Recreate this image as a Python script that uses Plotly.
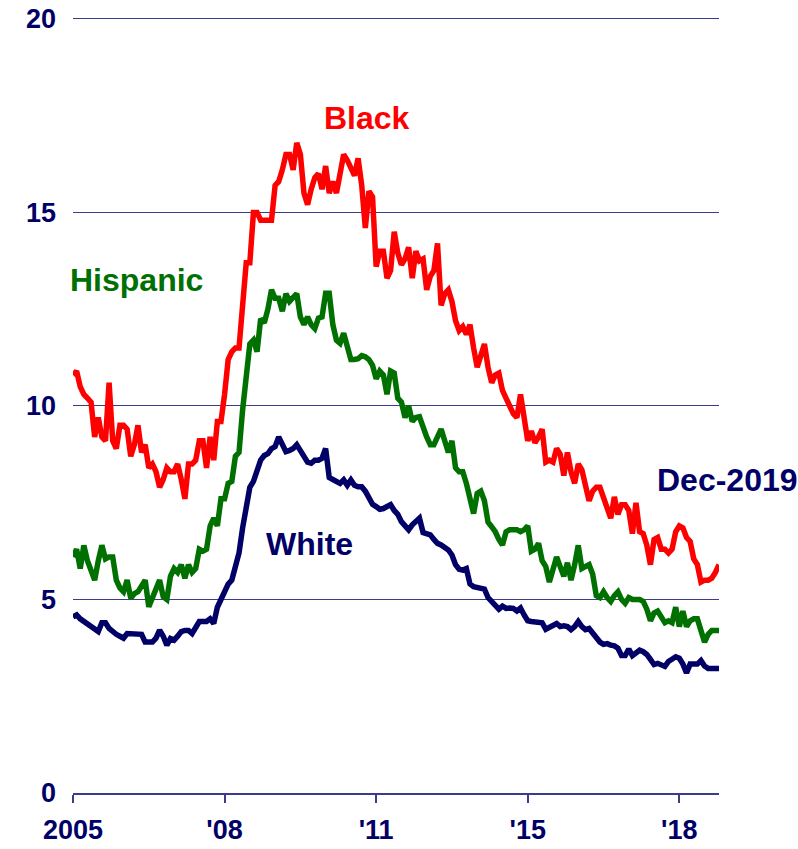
import plotly.graph_objects as go

# Monthly unemployment rate (%) by group, Jan 2005 - Dec 2019 (180 months)
months = list(range(180))

black = [
    10.8, 10.9, 10.5, 10.3, 10.2, 10.1, 9.2, 9.7, 9.2, 9.1,
    10.6, 9.1, 8.9, 9.5, 9.5, 9.4, 8.7, 9.0, 9.5, 8.8,
    9.0, 8.4, 8.5, 8.3, 7.9, 8.1, 8.4, 8.3, 8.3, 8.5,
    8.1, 7.6, 8.5, 8.5, 8.6, 9.1, 9.1, 8.4, 9.2, 8.6,
    9.6, 9.6, 10.3, 11.2, 11.4, 11.5, 11.5, 12.6, 13.7, 13.7,
    15.0, 15.0, 14.8, 14.8, 14.8, 14.8, 15.7, 15.8, 16.1, 16.5,
    16.5, 16.1, 16.8, 16.5, 15.5, 15.2, 15.6, 15.9, 16.0, 15.6,
    16.2, 15.5, 15.8, 15.5, 16.0, 16.5, 16.35, 16.1, 15.95, 16.4,
    15.7, 14.6, 15.55, 15.4, 13.6, 14.0, 14.0, 13.3, 13.5, 14.5,
    13.95, 13.65, 13.8, 14.1, 13.3, 14.0, 13.75, 13.8, 13.0, 13.35,
    13.5, 14.2, 12.6, 12.9, 13.0, 12.7, 12.2, 11.95, 12.05, 11.85,
    12.1, 11.5, 11.0, 11.3, 11.6, 11.0, 10.6, 10.8, 10.85, 10.4,
    10.15, 10.0, 9.8, 9.7, 10.3, 9.7, 9.1, 9.35, 9.05, 9.2,
    9.4, 8.55, 8.6, 8.55, 8.9, 8.75, 8.2, 8.8, 8.3, 8.0,
    8.5, 8.35, 8.0, 7.55, 7.8, 7.9, 7.9, 7.65, 7.3, 7.1,
    7.65, 7.2, 7.45, 7.45, 7.3, 6.7, 7.5, 6.75, 6.7, 6.4,
    5.9, 6.55, 6.6, 6.3, 6.3, 6.2, 6.3, 6.75, 6.9, 6.85,
    6.6, 6.5, 6.05, 5.9, 5.45, 5.5, 5.5, 5.55, 5.7, 5.9,
]

hispanic = [
    6.1, 6.3, 5.8, 6.4, 6.0, 5.75, 5.5, 6.0, 6.4, 6.05,
    6.1, 6.1, 5.5, 5.3, 5.2, 5.5, 5.03, 5.15, 5.2, 5.35,
    5.5, 4.81, 5.07, 5.3, 5.5, 5.07, 5.0, 5.6, 5.8, 5.7,
    5.9, 5.55, 5.9, 5.7, 5.8, 6.3, 6.25, 6.3, 6.9, 7.1,
    6.9, 7.6, 7.6, 8.0, 8.05, 8.7, 8.8, 9.9, 10.9, 11.6,
    11.7, 11.4, 12.25, 12.15, 12.5, 13.0, 12.78, 12.78, 12.45, 12.9,
    12.7, 12.8, 12.9, 12.3, 12.1, 12.3, 12.1, 12.0, 12.27, 12.3,
    12.91, 12.91, 12.1, 11.7, 11.62, 11.88, 11.5, 11.2, 11.2, 11.22,
    11.3, 11.27, 11.2, 11.05, 10.7, 10.9, 10.8, 10.3, 10.9, 10.85,
    10.2, 10.1, 9.7, 10.0, 9.6, 9.7, 9.72, 9.4, 9.2, 9.0,
    9.0, 9.2, 9.4, 9.1, 8.8, 9.1, 8.4, 8.3, 8.3, 8.0,
    7.6, 7.22, 7.74, 7.8, 7.55, 7.0, 6.88, 6.75, 6.55, 6.41,
    6.75, 6.8, 6.8, 6.8, 6.75, 6.8, 6.9, 6.25, 6.3, 6.45,
    6.0, 5.85, 5.45, 5.8, 6.1, 5.85, 5.6, 5.95, 5.5, 5.9,
    6.4, 5.8, 5.85, 5.9, 5.65, 5.1, 5.05, 5.2, 5.05, 4.95,
    5.1, 5.2, 5.0, 4.9, 5.05, 5.0, 5.0, 5.0, 4.95, 4.75,
    4.45, 4.65, 4.7, 4.55, 4.4, 4.45, 4.4, 4.8, 4.3, 4.7,
    4.3, 4.45, 4.5, 4.5, 4.2, 3.9, 4.1, 4.2, 4.2, 4.2,
]

white = [
    4.55, 4.6, 4.5, 4.43, 4.38, 4.3, 4.2, 4.17, 4.4, 4.4,
    4.25, 4.15, 4.1, 4.05, 4.0, 4.12, 4.12, 4.12, 4.12, 4.1,
    3.9, 3.9, 3.9, 4.0, 4.21, 4.05, 3.82, 3.99, 3.95, 4.05,
    4.17, 4.2, 4.2, 4.12, 4.3, 4.43, 4.43, 4.43, 4.5, 4.38,
    4.8, 5.0, 5.2, 5.4, 5.5, 5.8, 6.2, 6.85, 7.3, 7.9,
    8.05, 8.3, 8.6, 8.72, 8.77, 8.9, 8.95, 9.2, 9.0, 8.82,
    8.85, 8.9, 9.0, 8.85, 8.73, 8.55, 8.52, 8.6, 8.6, 8.65,
    8.9, 8.15, 8.1, 8.05, 8.0, 8.09, 7.95, 8.09, 7.95, 7.91,
    7.91, 7.8, 7.66, 7.46, 7.4, 7.33, 7.35, 7.42, 7.45, 7.3,
    7.2, 7.01, 6.9, 6.8, 6.93, 7.0, 7.1, 6.73, 6.7, 6.67,
    6.55, 6.45, 6.41, 6.33, 6.28, 6.15, 5.9, 5.78, 5.76, 5.8,
    5.4, 5.33, 5.3, 5.3, 5.27, 5.05, 4.95, 4.88, 4.75, 4.83,
    4.77, 4.78, 4.77, 4.7, 4.78, 4.6, 4.45, 4.43, 4.43, 4.43,
    4.4, 4.23, 4.28, 4.34, 4.38, 4.3, 4.32, 4.3, 4.22, 4.3,
    4.43, 4.3, 4.22, 4.25, 4.12, 3.97, 3.9, 3.84, 3.86, 3.82,
    3.8, 3.74, 3.55, 3.55, 3.72, 3.55, 3.62, 3.69, 3.65, 3.58,
    3.45, 3.32, 3.35, 3.3, 3.27, 3.4, 3.45, 3.52, 3.48, 3.33,
    3.1, 3.33, 3.33, 3.33, 3.42, 3.28, 3.22, 3.22, 3.22, 3.22,
]

x_tick_pos = [0, 42, 84, 126, 168]
x_tick_text = ["2005", "'08", "'11", "'15", "'18"]
y_ticks = [0, 5, 10, 15, 20]

NAVY = "#000066"
RED = "#ff0000"
GREEN = "#007000"
GRID = "#3c3c8c"
FONT = "Liberation Sans, Arial, sans-serif"

fig = go.Figure()
for vals, color in ((black, RED), (hispanic, GREEN), (white, NAVY)):
    fig.add_trace(go.Scatter(
        x=months, y=vals, mode="lines",
        line=dict(color=color, width=5.5),
        hoverinfo="skip", showlegend=False,
    ))

# series labels: (text, x, xref, y, colour)
labels = [
    ("Black", 81.4, "x", 17.45, RED),
    ("Hispanic", 17.7, "x", 13.26, GREEN),
    ("White", 65.6, "x", 6.44, NAVY),
    ("Dec-2019", 1.0124, "paper", 8.1, NAVY),
]
for text, x, xref, y, color in labels:
    fig.add_annotation(
        x=x, y=y, xref=xref, yref="y", text=text, showarrow=False,
        xanchor="center", yanchor="middle",
        font=dict(family=FONT, size=32, color=color, weight="bold"),
    )

fig.update_layout(
    width=798, height=849,
    margin=dict(l=73, r=79, t=17, b=56),
    paper_bgcolor="white", plot_bgcolor="white",
    showlegend=False,
)
fig.update_xaxes(
    range=[0, 179], tickvals=x_tick_pos, ticktext=x_tick_text,
    automargin=False,
    showgrid=False, zeroline=False,
    showline=True, linecolor=GRID, linewidth=1.5,
    ticks="outside", ticklen=8, tickcolor=GRID, tickwidth=1.5,
    ticklabelstandoff=4,
    tickfont=dict(family=FONT, size=27, color=NAVY, weight="bold"),
)
fig.update_yaxes(
    range=[0, 20.05], tickvals=y_ticks, automargin=False,
    showgrid=True, gridcolor=GRID, gridwidth=1,
    zeroline=False, showline=False, ticks="",
    ticklabelstandoff=16,
    tickfont=dict(family=FONT, size=27, color=NAVY, weight="bold"),
)

fig.write_html("out.html")
